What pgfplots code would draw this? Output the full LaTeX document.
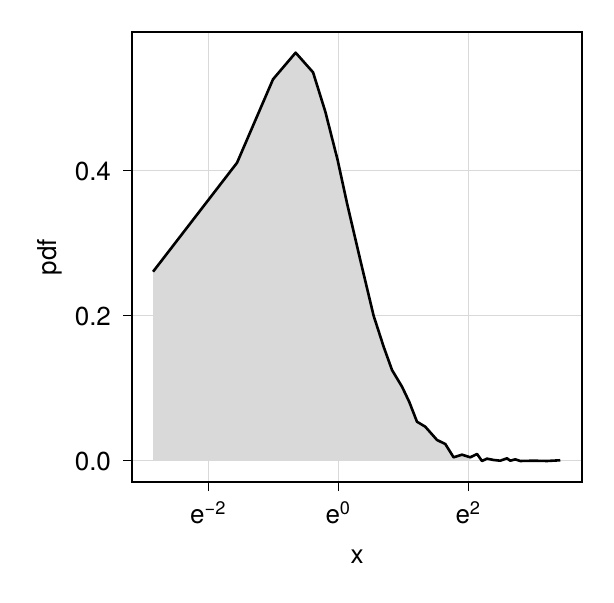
\documentclass[border=0pt]{standalone}
\usepackage{fontspec}
\setmainfont{TeX Gyre Heros}
\usepackage{pgfplots}
\pgfplotsset{compat=1.18}
\begin{document}
\fontsize{13}{15}\selectfont
\begin{tikzpicture}
\useasboundingbox (-66pt,-60pt) rectangle (241pt,241pt);
\begin{axis}[
  at={(0,0)}, anchor=south west,
  width=225pt, height=225pt, scale only axis,
  xmode=log, log basis x={2.718281828},
  xmin=0.0418, xmax=42.5,
  ymin=-0.029, ymax=0.5917,
  xtick={0.135335283,1,7.389056099},
  xticklabels={e\textsuperscript{−2},e\textsuperscript{0},e\textsuperscript{2}},
  ytick={0,0.2,0.4},
  yticklabels={0.0,0.2,0.4},
  tick align=outside, tick pos=left,
  major tick length=4.5pt,
  tick style={black, line width=0.5pt},
  grid=major,
  major grid style={black!15, line width=0.5pt},
  axis line style={black, line width=0.6pt},
  xlabel={x}, ylabel={pdf},
  xlabel style={at={(axis description cs:0.5,-0.166)}, anchor=center},
  ylabel style={at={(axis description cs:-0.183,0.5)}, anchor=center},
  xticklabel style={yshift=-1pt},
  yticklabel style={xshift=-1.5pt},
  clip=true,
]
\addplot[fill=black!15, draw=none] coordinates {
(0.0578,0) (0.0578,0.2611) (0.2105,0.4114) (0.3661,0.5265) (0.5184,0.5632) (0.6778,0.5361)
(0.8187,0.4818) (0.9891,0.4152) (1.1434,0.3554) (1.4022,0.2772) (1.7212,0.2004) (2.0078,0.1577)
(2.2842,0.1255) (2.6645,0.1025) (2.9802,0.0814) (3.3535,0.0542) (3.811,0.0473) (4.564,0.0290)
(5.186,0.0234) (5.894,0.0051) (6.706,0.0087) (7.62,0.0051) (7.62,0)
};
\addplot[black, line width=1.3pt, line join=round] coordinates {
(0.0578,0.2611) (0.2105,0.4114) (0.3661,0.5265) (0.5184,0.5632) (0.6778,0.5361)
(0.8187,0.4818) (0.9891,0.4152) (1.1434,0.3554) (1.4022,0.2772) (1.7212,0.2004) (2.0078,0.1577)
(2.2842,0.1255) (2.6645,0.1025) (2.9802,0.0814) (3.3535,0.0542) (3.811,0.0473) (4.564,0.0290)
(5.186,0.0234) (5.894,0.0051) (6.706,0.0087) (7.62,0.0051) (8.45,0.0097) (9.12,0.0)
(9.85,0.0032) (10.90,0.0014) (12.09,0.0004) (13.40,0.0037) (14.10,0.0004) (15.23,0.0023)
(16.44,0.0) (20.19,0.0004) (24.80,0.0) (30.42,0.0010)
};
\end{axis}
\end{tikzpicture}
\end{document}
